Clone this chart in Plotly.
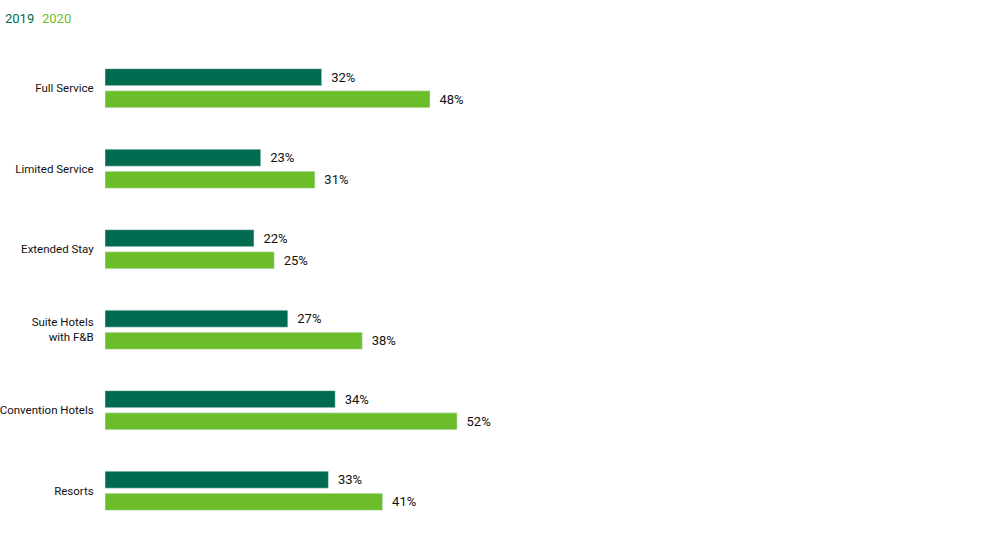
import plotly.graph_objects as go

categories = ["Full Service", "Limited Service", "Extended Stay",
              "Suite Hotels<br>with F&B", "Convention Hotels", "Resorts"]
values_2019 = [32, 23, 22, 27, 34, 33]
values_2020 = [48, 31, 25, 38, 52, 41]

dark_green = "#006B4F"
light_green = "#6BBE2A"
font_name = "Roboto, Liberation Sans, sans-serif"
label_font = dict(color="#111", size=13, family=font_name)
tick_font = dict(color="#111", size=11.5, family=font_name)

fig = go.Figure()

fig.add_trace(go.Bar(
    y=categories, x=values_2019, name="2019",
    orientation="h", marker_color=dark_green,
    texttemplate="  %{x}%", textposition="outside",
    textfont=label_font, cliponaxis=False, hoverinfo="skip"))

fig.add_trace(go.Bar(
    y=categories, x=values_2020, name="2020",
    orientation="h", marker_color=light_green,
    texttemplate="  %{x}%", textposition="outside",
    textfont=label_font, cliponaxis=False, hoverinfo="skip"))

# legend drawn as coloured text above the bars
fig.add_annotation(text="2019", x=-0.1153, y=1.062, xref="paper", yref="paper",
                   xanchor="left", yanchor="middle", showarrow=False,
                   font=dict(color=dark_green, size=13, family=font_name))
fig.add_annotation(text="2020", x=-0.0734, y=1.062, xref="paper", yref="paper",
                   xanchor="left", yanchor="middle", showarrow=False,
                   font=dict(color=light_green, size=13, family=font_name))

fig.update_layout(
    width=1000, height=533,
    barmode="group", bargap=0.45, bargroupgap=0.23,
    plot_bgcolor="white", paper_bgcolor="white",
    showlegend=False,
    margin=dict(l=105, r=10, t=48, b=2, autoexpand=False),
    font=dict(family=font_name, size=13, color="#111"),
    xaxis=dict(range=[0, 130.7], visible=False, fixedrange=True),
    yaxis=dict(autorange="reversed", showgrid=False, zeroline=False,
               showline=False, ticks="outside", ticklen=8, automargin=False,
               tickcolor="white", tickfont=tick_font, fixedrange=True),
)

# drop the default 8px body margin so the figure fills the window
fig.write_html("out.html", config={"displayModeBar": False},
               post_script="document.body.style.margin='0';")
